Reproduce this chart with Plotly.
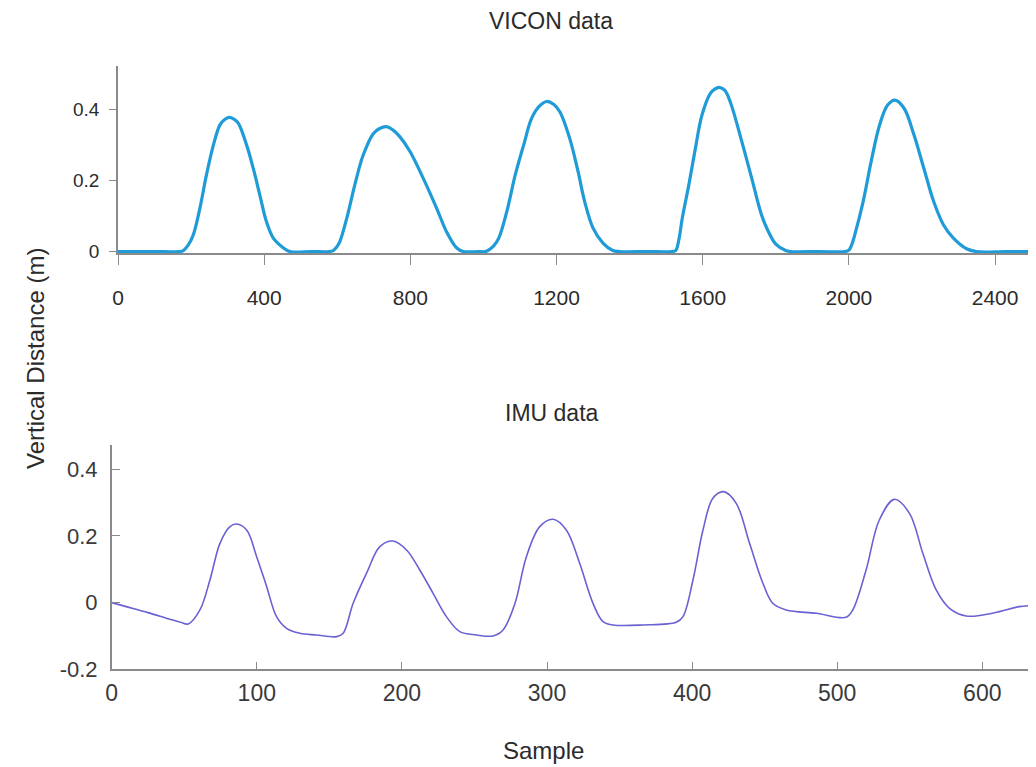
import plotly.graph_objects as go

# ---- data ----
vicon_x = [0, 100, 165, 179, 192, 206, 224, 242, 261, 279, 292, 304, 316, 329, 352, 370, 388, 406, 425, 452, 470,
           530, 578, 589, 598, 607, 626, 648, 671, 699, 716, 735, 752, 771, 799, 835, 872, 899, 927, 945,
           985, 1005, 1014, 1028, 1042, 1064, 1087, 1110, 1132, 1153, 1173, 1192, 1209, 1236, 1259, 1277, 1300, 1327, 1354, 1372,
           1450, 1515, 1526, 1535, 1544, 1562, 1580, 1598, 1621, 1633, 1645, 1660, 1675, 1707, 1734, 1761, 1778, 1800, 1827, 1840,
           1920, 1990, 2000, 2008, 2016, 2039, 2061, 2084, 2106, 2126, 2151, 2178, 2205, 2232, 2259, 2286, 2322, 2349,
           2430, 2520]
vicon_y = [0, 0, 0, 0.003, 0.018, 0.047, 0.122, 0.216, 0.3, 0.357, 0.372, 0.378, 0.374, 0.362, 0.3, 0.235, 0.16, 0.085, 0.038, 0.011, 0,
           0, 0, 0.003, 0.012, 0.028, 0.094, 0.188, 0.272, 0.333, 0.347, 0.352, 0.343, 0.324, 0.282, 0.207, 0.122, 0.056, 0.01, 0,
           0, 0, 0.004, 0.016, 0.038, 0.113, 0.216, 0.3, 0.376, 0.41, 0.423, 0.415, 0.394, 0.319, 0.225, 0.141, 0.066, 0.024, 0.003, 0,
           0, 0, 0.003, 0.035, 0.094, 0.188, 0.291, 0.385, 0.446, 0.458, 0.463, 0.455, 0.423, 0.31, 0.207, 0.103, 0.06, 0.021, 0.003, 0,
           0, 0, 0.004, 0.02, 0.047, 0.141, 0.254, 0.357, 0.413, 0.427, 0.404, 0.329, 0.235, 0.141, 0.075, 0.038, 0.008, 0,
           0, 0]

imu_x = [0, 10, 25, 40, 47, 52.8, 60.8, 67.7, 74.6, 81.5, 86, 93, 99.9, 106.8, 113.6, 120.5,
         129.7, 141, 155, 159.5, 166.4, 175.6, 184.8, 193.9, 203.2, 212.3, 221.5, 230.7, 239.9,
         251.4, 262.8, 269.7, 277.8, 285.8, 295, 304.2, 313.3, 322.5, 331.7, 338.6, 345.5, 366.2,
         389.1, 393.7, 400.6, 407.5, 414.3, 421.7, 430.4, 439.6, 448.8, 455.6, 464.8, 485.5, 506.1,
         510.7, 519.9, 529, 539.4, 549.8, 559, 568.2, 577.4, 588.8, 600.3, 611.8, 625.5, 637]
imu_y = [0.0, -0.012, -0.03, -0.05, -0.058, -0.064, -0.022, 0.068, 0.178, 0.228, 0.236, 0.218,
         0.138, 0.048, -0.042, -0.077, -0.092, -0.097, -0.102, -0.092, -0.002, 0.088, 0.168, 0.185,
         0.158, 0.098, 0.028, -0.042, -0.087, -0.097, -0.1, -0.082, -0.004, 0.138, 0.228, 0.25,
         0.218, 0.118, -0.002, -0.057, -0.067, -0.067, -0.059, -0.042, 0.068, 0.218, 0.313, 0.333,
         0.298, 0.178, 0.058, -0.002, -0.022, -0.032, -0.044, -0.022, 0.098, 0.248, 0.31, 0.268,
         0.148, 0.038, -0.017, -0.04, -0.037, -0.027, -0.012, -0.008]

vicon_xticks = [0, 400, 800, 1200, 1600, 2000, 2400]
vicon_yticks = [0, 0.2, 0.4]
vicon_yticklabels = ["0", "0.2", "0.4"]
imu_xticks = [0, 100, 200, 300, 400, 500, 600]
imu_yticks = [-0.2, 0, 0.2, 0.4]
imu_yticklabels = ["-0.2", "0", "0.2", "0.4"]

titles = ["VICON data", "IMU data"]
y_label = "Vertical Distance (m)"
x_label = "Sample"

# page body has an 8px margin; figure fills the rest of the 1036x767 window
OFF = 8
W, H = 1036 - OFF, 767 - OFF
FONT = "Liberation Sans, Arial, sans-serif"
AX = "#8a8a8a"
TXT = "#2b2b2b"

fig = go.Figure()
fig.add_trace(go.Scatter(x=vicon_x, y=vicon_y, mode="lines",
                         line=dict(color="#1f9bd7", width=3.2, shape="spline", smoothing=1.0),
                         xaxis="x", yaxis="y", showlegend=False))
fig.add_trace(go.Scatter(x=imu_x, y=imu_y, mode="lines",
                         line=dict(color="#6a62d2", width=1.6, shape="spline", smoothing=1.0),
                         xaxis="x2", yaxis="y2", showlegend=False))

def px(p):
    return (p - OFF) / W

def py(p):
    return (H - (p - OFF)) / H

fig.update_layout(
    width=W, height=H,
    margin=dict(l=0, r=0, t=0, b=0),
    paper_bgcolor="white", plot_bgcolor="white",
    font=dict(family=FONT, color=TXT),
    xaxis=dict(domain=[px(118), 1.0], anchor="y", range=[0, 2512],
               tickvals=vicon_xticks, ticks="outside", ticklen=10, tickcolor=AX,
               showline=True, linecolor=AX, linewidth=1.5, showgrid=False, zeroline=False,
               tickfont=dict(size=21, color=TXT), ticklabelstandoff=15, automargin=False),
    yaxis=dict(domain=[py(253), py(66)], anchor="x", range=[-0.004, 0.523],
               tickvals=vicon_yticks, ticktext=vicon_yticklabels, ticks="outside", ticklen=7,
               tickcolor=AX, showline=True, linecolor=AX, linewidth=1.5, showgrid=False,
               zeroline=False, tickfont=dict(size=19, color=TXT), ticklabelstandoff=6,
               automargin=False),
    xaxis2=dict(domain=[px(111.7), 1.0], anchor="y2", range=[0, 637],
                tickvals=imu_xticks, ticks="inside", ticklen=8, tickcolor=AX,
                showline=True, linecolor=AX, linewidth=1.5, showgrid=False, zeroline=False,
                tickfont=dict(size=23, color="#3a3a3a"), ticklabelstandoff=2, automargin=False),
    yaxis2=dict(domain=[py(669.3), py(445)], anchor="x2", range=[-0.2, 0.473],
                tickvals=imu_yticks, ticktext=imu_yticklabels, ticks="inside", ticklen=9,
                tickcolor=AX, showline=True, linecolor=AX, linewidth=1.5, showgrid=False,
                zeroline=False, tickfont=dict(size=22, color="#3a3a3a"), ticklabelstandoff=8,
                automargin=False),
    annotations=[
        dict(text=titles[0], x=px(551), y=py(21), xref="paper", yref="paper",
             showarrow=False, font=dict(size=23, color=TXT), xanchor="center", yanchor="middle"),
        dict(text=titles[1], x=px(552), y=py(413), xref="paper", yref="paper",
             showarrow=False, font=dict(size=23, color=TXT), xanchor="center", yanchor="middle"),
        dict(text=y_label, x=px(35), y=py(359), xref="paper", yref="paper", textangle=-90,
             showarrow=False, font=dict(size=24, color=TXT), xanchor="center", yanchor="middle"),
        dict(text=x_label, x=px(543), y=py(750), xref="paper", yref="paper",
             showarrow=False, font=dict(size=24, color=TXT), xanchor="center", yanchor="middle"),
    ],
)

fig.write_html("out.html")
